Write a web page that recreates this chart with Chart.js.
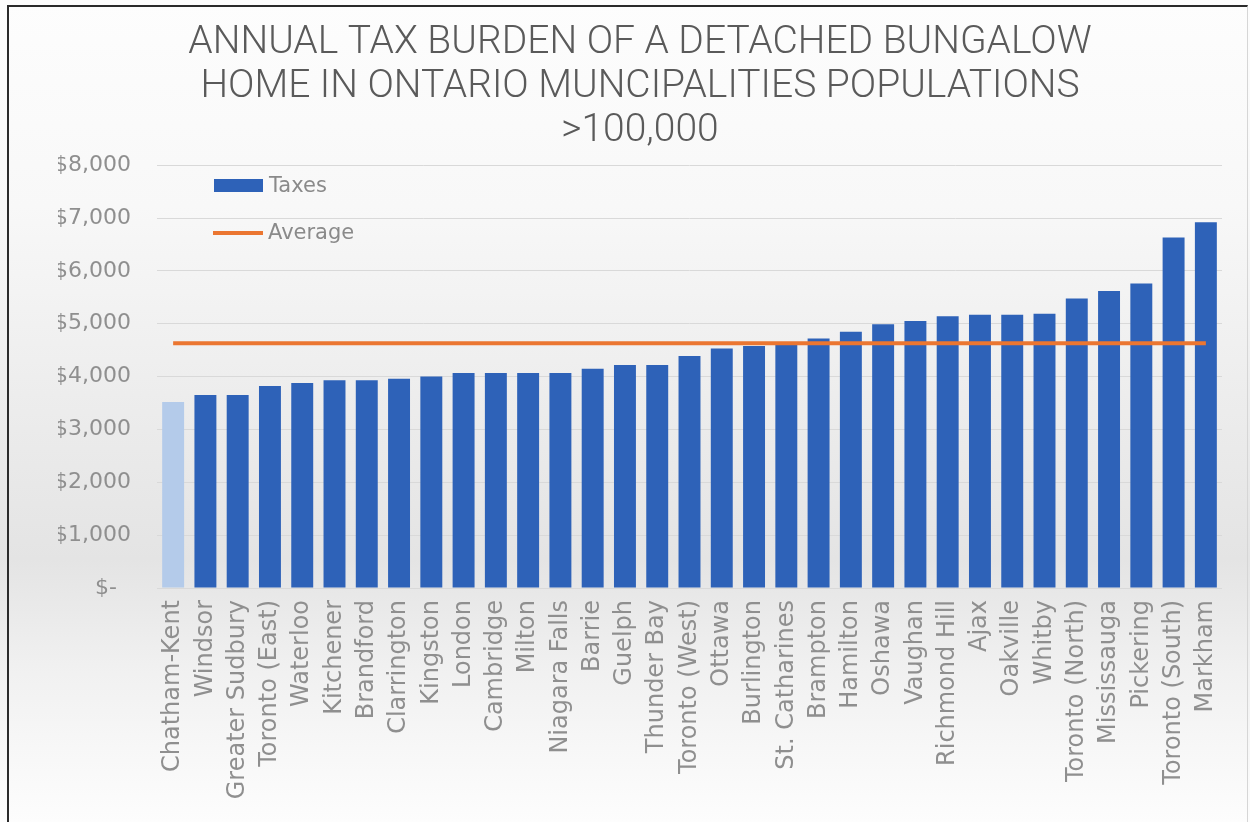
<!DOCTYPE html>
<html>
<head>
<meta charset="utf-8">
<script src="https://cdn.jsdelivr.net/npm/chart.js@4.4.1/dist/chart.umd.min.js"></script>
<style>
  body { margin: 0; }
  #wrap {
    position: relative; width: 1250px; height: 822px; overflow: hidden;
    background: linear-gradient(to bottom, #fdfdfd 0%, #f8f8f8 25%, #ececec 50%, #e4e4e4 68%, #f1f1f1 82%, #fdfdfd 100%);
  }
  #frame {
    position: absolute; left: 7px; top: 5px; right: 2px; bottom: -4px;
    border-left: 2px solid #2b2b2b; border-top: 2px solid #2b2b2b; border-right: 1px solid #d6d6d6;
  }
  #chart { position: absolute; left: 0; top: 0; }
  .leg { position: absolute; font-family: "DejaVu Sans", sans-serif; font-size: 21px; color: #8a8a8a; line-height: 24px; }
  .sw { position: absolute; }
</style>
</head>
<body>
<div id="wrap">
  <div id="frame"></div>
  <canvas id="chart" width="1250" height="822"></canvas>
  <div id="legend"></div>
</div>
<script>
const cities = ["Chatham-Kent", "Windsor", "Greater Sudbury", "Toronto (East)", "Waterloo", "Kitchener",
  "Brandford", "Clarrington", "Kingston", "London", "Cambridge", "Milton", "Niagara Falls", "Barrie",
  "Guelph", "Thunder Bay", "Toronto (West)", "Ottawa", "Burlington", "St. Catharines", "Brampton",
  "Hamilton", "Oshawa", "Vaughan", "Richmond Hill", "Ajax", "Oakville", "Whitby", "Toronto (North)",
  "Mississauga", "Pickering", "Toronto (South)", "Markham"];

const taxes = [3520, 3650, 3650, 3820, 3880, 3930, 3930, 3960, 4000, 4070, 4070, 4070, 4070, 4150,
  4220, 4220, 4390, 4530, 4580, 4620, 4720, 4850, 4990, 5050, 5140, 5170, 5170, 5190, 5480,
  5620, 5760, 6630, 6920];

// the average series is one flat value across every city
const averageTax = 4630;
const average = cities.map(() => averageTax);

const yTicks = [0, 1000, 2000, 3000, 4000, 5000, 6000, 7000, 8000];
const titleLines = ["ANNUAL TAX BURDEN OF A DETACHED BUNGALOW", "HOME IN ONTARIO MUNCIPALITIES POPULATIONS", ">100,000"];
const highlighted = "Chatham-Kent";

const blue = "#2E62B8";
const paleBlue = "#B4CBEA";
const orange = "#EB7631";
const grey = "#8f8f8f";

const ctx = document.getElementById('chart').getContext('2d');
const chart = new Chart(ctx, {
  type: 'bar',
  data: {
    labels: cities,
    datasets: [{
      type: 'line',
      label: 'Average',
      data: average,
      borderColor: orange,
      backgroundColor: orange,
      borderWidth: 4,
      pointRadius: 0,
      fill: false,
      order: 0
    }, {
      label: 'Taxes',
      data: taxes,
      backgroundColor: cities.map(c => c == highlighted ? paleBlue : blue),
      barPercentage: 0.68,
      categoryPercentage: 1,
      order: 1
    }]
  },
  options: {
    responsive: false,
    animation: false,
    layout: { padding: { left: 58, right: 28, top: 4, bottom: 0 } },
    plugins: {
      legend: { display: false },
      tooltip: { enabled: false },
      title: {
        display: true,
        text: titleLines,
        color: '#5a5a5a',
        font: { family: 'Roboto', size: 39, weight: '300', lineHeight: 1.13 },
        padding: { top: 17, bottom: 12 }
      }
    },
    scales: {
      x: {
        grid: { display: false, drawTicks: false },
        border: { display: false },
        ticks: {
          color: grey, autoSkip: false, maxRotation: 90, minRotation: 90, padding: 12,
          font: { family: 'DejaVu Sans', size: 24 }
        },
        afterFit: (scale) => { scale.height = 234; }
      },
      y: {
        min: 0, max: 8000,
        afterBuildTicks: (scale) => { scale.ticks = yTicks.map(v => ({ value: v })); },
        grid: { color: '#d9d9d9', lineWidth: 1, drawTicks: false },
        border: { display: false },
        ticks: {
          color: grey, padding: 26,
          font: { family: 'DejaVu Sans', size: 22 },
          callback: (v) => v == 0 ? '$-  ' : '$' + v.toLocaleString('en-US')
        },
        afterFit: (scale) => { scale.width = 99; }
      }
    }
  }
});

// legend sits inside the plot, top left
const legend = document.getElementById('legend');
legend.innerHTML =
  '<div class="sw" style="left:214px;top:179px;width:49px;height:13px;background:' + blue + '"></div>' +
  '<div class="leg" style="left:269px;top:173px">' + chart.data.datasets[1].label + '</div>' +
  '<div class="sw" style="left:213px;top:231px;width:50px;height:4px;background:' + orange + '"></div>' +
  '<div class="leg" style="left:268px;top:220px">' + chart.data.datasets[0].label + '</div>';
</script>
</body>
</html>
